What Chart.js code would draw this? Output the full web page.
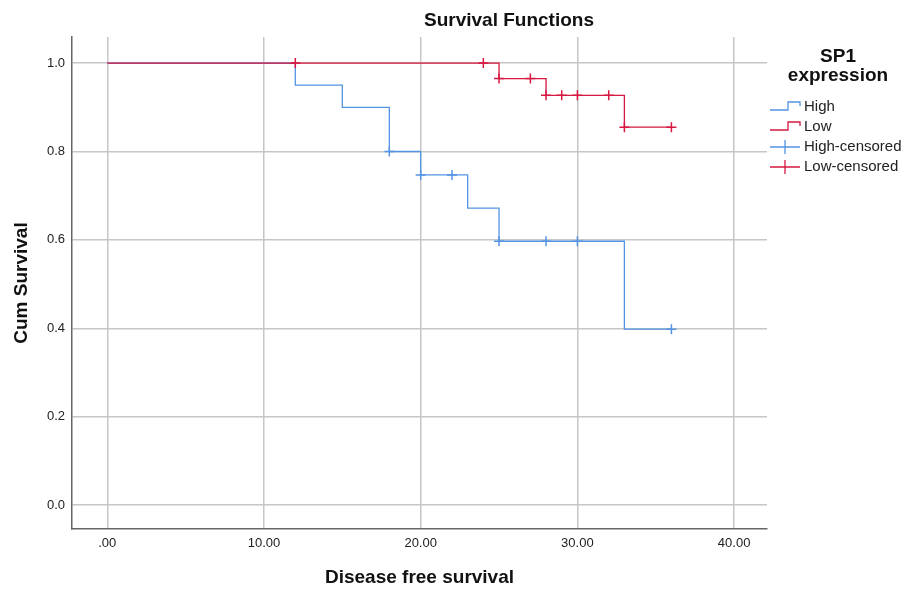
<!DOCTYPE html>
<html lang="en">
<head>
<meta charset="UTF-8">
<title>Survival Functions</title>
<script src="https://cdn.jsdelivr.net/npm/chart.js@4.4.1/dist/chart.umd.min.js"></script>
<style>
  html, body { margin: 0; padding: 0; background: #fff; }
</style>
</head>
<body>
<canvas id="survChart" width="906" height="589"></canvas>

<script>
// ---------------- data ----------------
const highTimes = [0, 12, 15, 18, 20, 23, 25, 33, 36];
const highSurv  = [1.0, 0.95, 0.90, 0.80, 0.747, 0.672, 0.597, 0.398, 0.398];
const lowTimes  = [0, 25, 28, 33, 36];
const lowSurv   = [1.0, 0.965, 0.927, 0.855, 0.855];

const highCensTimes = [18, 20, 22, 25, 28, 30, 36];
const highCensSurv  = [0.80, 0.747, 0.747, 0.597, 0.597, 0.597, 0.398];
const lowCensTimes  = [12, 24, 25, 27, 28, 29, 30, 32, 33, 36];
const lowCensSurv   = [1.0, 1.0, 0.965, 0.965, 0.927, 0.927, 0.927, 0.927, 0.855, 0.855];

const xTicks = [0, 10, 20, 30, 40];
const yTicks = [0, 0.2, 0.4, 0.6, 0.8, 1.0];

const BLUE = 'rgb(84,148,228)';
const RED = 'rgb(214,24,66)';
const FONT = '"Liberation Sans", Arial, sans-serif';

function pts(xs, ys) {
  return xs.map((x, i) => ({ x: x, y: ys[i] }));
}

// title + legend, SPSS style
const sideBits = {
  id: 'sideBits',
  afterDraw(chart) {
    const ctx = chart.ctx;
    ctx.save();
    ctx.fillStyle = '#111';
    ctx.textAlign = 'center';
    ctx.textBaseline = 'middle';
    ctx.font = 'bold 19px ' + FONT;
    ctx.fillText('Survival Functions', 509, 21);

    ctx.fillText('SP1', 838, 57);
    ctx.fillText('expression', 838, 76);

    ctx.font = '15px ' + FONT;
    ctx.textAlign = 'left';
    chart.data.datasets.forEach((ds, i) => {
      const y = 107 + i * 20;
      ctx.strokeStyle = ds.borderColor;
      ctx.lineWidth = 1.3;
      ctx.beginPath();
      if (ds.showLine === false) {
        ctx.moveTo(770, y); ctx.lineTo(800, y);
        ctx.moveTo(785, y - 7); ctx.lineTo(785, y + 7);
      } else {
        ctx.moveTo(770, y + 3); ctx.lineTo(788, y + 3);
        ctx.lineTo(788, y - 5); ctx.lineTo(800, y - 5);
        ctx.lineTo(800, y - 1);
      }
      ctx.stroke();
      ctx.fillStyle = '#222';
      ctx.fillText(ds.label, 804, y);
    });
    ctx.restore();
  }
};

new Chart(document.getElementById('survChart'), {
  type: 'line',
  data: {
    datasets: [
      {
        label: 'High',
        data: pts(highTimes, highSurv),
        borderColor: BLUE,
        borderWidth: 1.3,
        stepped: true,
        pointRadius: 0,
        fill: false,
        order: 3
      },
      {
        label: 'Low',
        data: pts(lowTimes, lowSurv),
        borderColor: RED,
        borderWidth: 1.3,
        stepped: true,
        pointRadius: 0,
        fill: false,
        order: 2
      },
      {
        label: 'High-censored',
        data: pts(highCensTimes, highCensSurv),
        borderColor: BLUE,
        showLine: false,
        pointStyle: 'cross',
        pointRadius: 5,
        pointBorderWidth: 1.5,
        order: 1
      },
      {
        label: 'Low-censored',
        data: pts(lowCensTimes, lowCensSurv),
        borderColor: RED,
        showLine: false,
        pointStyle: 'cross',
        pointRadius: 5,
        pointBorderWidth: 1.5,
        order: 0
      }
    ]
  },
  options: {
    responsive: false,
    animation: false,
    devicePixelRatio: 1,
    layout: { padding: { left: 0, top: 37, right: 139, bottom: 0 } },
    plugins: {
      legend: { display: false },
      title: { display: false },
      tooltip: { enabled: false }
    },
    scales: {
      x: {
        type: 'linear',
        position: 'bottom',
        min: -2.25,
        max: 42.1,
        afterBuildTicks: s => { s.ticks = xTicks.map(v => ({ value: v })); },
        afterFit: s => { s.height = 60; },
        ticks: {
          padding: 7,
          color: '#222',
          font: { family: FONT, size: 13 },
          callback: v => v === 0 ? '.00' : v.toFixed(2)
        },
        grid: { color: '#c6c6c6', lineWidth: 1.5, drawTicks: false },
        border: { display: true, color: '#666', width: 1.5 },
        title: {
          display: true,
          text: 'Disease free survival',
          color: '#111',
          font: { family: FONT, size: 19, weight: 'bold' },
          padding: { top: 0, bottom: 0 }
        }
      },
      y: {
        type: 'linear',
        min: -0.054,
        max: 1.059,
        afterBuildTicks: s => { s.ticks = yTicks.map(v => ({ value: v })); },
        afterFit: s => { s.width = 72; },
        ticks: {
          padding: 7,
          color: '#222',
          font: { family: FONT, size: 13 },
          callback: v => v.toFixed(1)
        },
        grid: { color: '#c6c6c6', lineWidth: 1.5, drawTicks: false },
        border: { display: true, color: '#666', width: 1.5 },
        title: {
          display: true,
          text: 'Cum Survival',
          color: '#111',
          font: { family: FONT, size: 19, weight: 'bold' },
          padding: { top: 10, bottom: 0 }
        }
      }
    }
  },
  plugins: [sideBits]
});
</script>
</body>
</html>
